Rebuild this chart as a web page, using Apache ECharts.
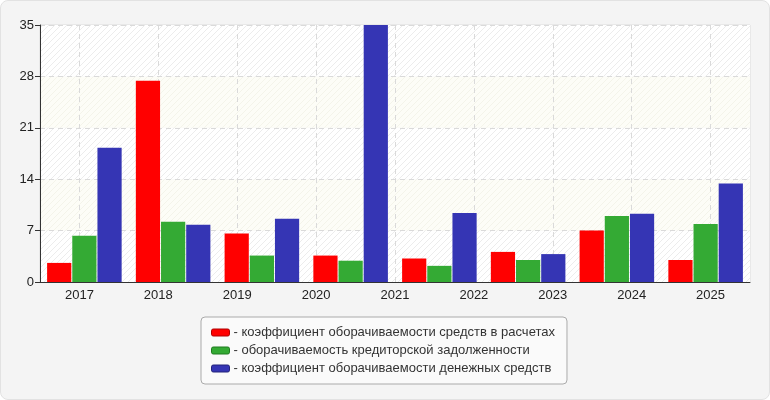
<!DOCTYPE html>
<html>
<head>
<meta charset="utf-8">
<script src="https://cdn.jsdelivr.net/npm/echarts@6/dist/echarts.min.js"></script>
<style>
html,body{margin:0;padding:0;background:#fff;}
#c{width:770px;height:400px;box-sizing:border-box;border:1px solid #e2e2e2;border-radius:8px;background:#f4f4f4;overflow:hidden;}
</style>
</head>
<body>
<div id="c"></div>
<script>
var yearLabels = ['2017','2018','2019','2020','2021','2022','2023','2024','2025'];
var barGroups = ['1','2','3','4','5','6','7','8'];
var seriesNames = [
  'коэффициент оборачиваемости средств в расчетах',
  'оборачиваемость кредиторской задолженности',
  'коэффициент оборачиваемости денежных средств'
];
var receivablesTurnover = [2.6, 27.4, 6.6, 3.6, 3.2, 4.1, 7.0, 3.0];
var payablesTurnover = [6.3, 8.2, 3.6, 2.9, 2.2, 3.0, 9.0, 7.9];
var cashTurnover = [18.3, 7.8, 8.6, 35, 9.4, 3.8, 9.3, 13.4];
var yTicks = {min: 0, max: 35, interval: 7};
var colors = ['#ff0000', '#34aa34', '#3535b4'];
var iconBorders = ['#b00000', '#1f7a1f', '#23237a'];

function hatch(base, stripe) {
  var cv = document.createElement('canvas');
  cv.width = 6; cv.height = 6;
  var ctx = cv.getContext('2d');
  ctx.fillStyle = base; ctx.fillRect(0, 0, 6, 6);
  ctx.strokeStyle = stripe; ctx.lineWidth = 1;
  ctx.beginPath();
  ctx.moveTo(0, 6); ctx.lineTo(6, 0);
  ctx.moveTo(-3, 3); ctx.lineTo(3, -3);
  ctx.moveTo(3, 9); ctx.lineTo(9, 3);
  ctx.stroke();
  return {image: cv, repeat: 'repeat'};
}

var chart = echarts.init(document.getElementById('c'), null, {renderer: 'canvas'});
var font = 'Liberation Sans, Arial, sans-serif';
chart.setOption({
  animation: false,
  textStyle: {fontFamily: font},
  grid: {left: 39, right: 19, top: 24, bottom: 117, show: true, borderColor: '#dcdcdc', borderWidth: 1},
  xAxis: [
    {
      type: 'category', data: yearLabels, position: 'bottom',
      axisLine: {lineStyle: {color: '#333', width: 1}},
      axisTick: {alignWithLabel: true, length: 4, lineStyle: {color: '#333'}},
      axisLabel: {color: '#222', fontSize: 13, margin: 7},
      splitLine: {show: true, alignWithLabel: true, lineStyle: {color: '#dadada', type: [5, 4]}}
    },
    {
      type: 'category', data: barGroups, show: false, position: 'bottom'
    }
  ],
  yAxis: {
    type: 'value', min: yTicks.min, max: yTicks.max, interval: yTicks.interval,
    axisLine: {show: true, lineStyle: {color: '#333'}},
    axisTick: {show: true, length: 5, lineStyle: {color: '#333'}},
    axisLabel: {color: '#222', fontSize: 13, margin: 6},
    splitLine: {lineStyle: {color: '#dadada', type: [5, 4]}},
    splitArea: {show: true, areaStyle: {color: [hatch('#ffffff', '#ececec'), hatch('#fdfdf7', '#f4f4ea')]}}
  },
  legend: {
    orient: 'vertical', left: 200, top: 316,
    backgroundColor: '#fafafa', borderColor: '#aaaaaa', borderWidth: 1, borderRadius: 4,
    padding: [8, 12, 8, 10],
    itemWidth: 18, itemHeight: 7, itemGap: 3,
    icon: 'roundRect',
    textStyle: {fontSize: 13, color: '#333', lineHeight: 15, padding: [0, 0, 0, -1]},
    formatter: function (n) { return '- ' + n; },
    data: seriesNames.map(function (n, i) {
      return {name: n, itemStyle: {borderColor: iconBorders[i], borderWidth: 1}};
    })
  },
  series: [
    {name: seriesNames[0], type: 'bar', xAxisIndex: 1, data: receivablesTurnover, barGap: '4%', barCategoryGap: '16%',
     itemStyle: {color: colors[0]}},
    {name: seriesNames[1], type: 'bar', xAxisIndex: 1, data: payablesTurnover,
     itemStyle: {color: colors[1]}},
    {name: seriesNames[2], type: 'bar', xAxisIndex: 1, data: cashTurnover,
     itemStyle: {color: colors[2]}}
  ]
});
</script>
</body>
</html>
